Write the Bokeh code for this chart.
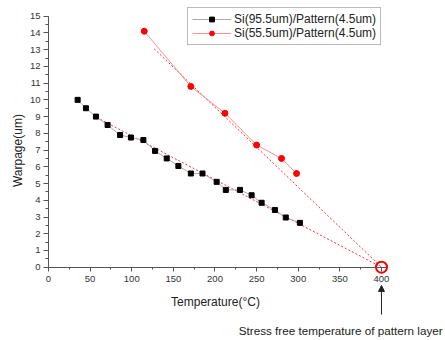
import math
from bokeh.plotting import figure
from bokeh.models import (Range1d, SingleIntervalTicker, Label, Arrow, NormalHead,
                          Legend, LegendItem)
from bokeh.embed import file_html
from bokeh.resources import INLINE

# ---- data ----
temp_95 = [35, 45, 57, 71, 86, 99, 114, 128, 142, 156, 171, 185, 202, 213, 230, 244, 256, 272, 285, 302]
warp_95 = [10.0, 9.5, 9.0, 8.5, 7.9, 7.75, 7.6, 6.95, 6.5, 6.05, 5.6, 5.6, 5.1, 4.62, 4.62, 4.3, 3.85, 3.42, 2.97, 2.65]
temp_55 = [115, 171, 212, 250, 280, 298]
warp_55 = [14.1, 10.8, 9.2, 7.3, 6.5, 5.6]
fit_95_x = [54, 400]
fit_95_y = [9.05, 0]
fit_55_x = [127, 400]
fit_55_y = [13.05, 0]
stress_free_x = [400]
stress_free_y = [0]
label_95 = "Si(95.5um)/Pattern(4.5um)"
label_55 = "Si(55.5um)/Pattern(4.5um)"
x_title = "Temperature(\u00b0C)"
y_title = "Warpage(um)"
note = "Stress free temperature of pattern layer"

FONT = "Liberation Sans"

p = figure(width=445, height=340, output_backend="svg", toolbar_location=None,
           x_range=Range1d(-57.66, 476.9), y_range=Range1d(-4.38, 15.938),
           min_border_left=0, min_border_right=0, min_border_top=0, min_border_bottom=0)
p.grid.visible = False
p.outline_line_color = None
p.background_fill_color = "white"
p.border_fill_color = "white"

xa = p.xaxis[0]
xa.fixed_location = 0
xa.bounds = (0, 406)
xa.ticker = SingleIntervalTicker(interval=50, num_minor_ticks=2)
ya = p.yaxis[0]
ya.fixed_location = 0
ya.bounds = (0, 15)
ya.ticker = SingleIntervalTicker(interval=1, num_minor_ticks=2)
for ax, mo, mi, st in ((xa, 4, 2, 5), (ya, 5, 3, 3)):
    ax.major_tick_in = 0
    ax.major_tick_out = mo
    ax.minor_tick_in = 0
    ax.minor_tick_out = mi
    ax.axis_line_color = "#555555"
    ax.major_tick_line_color = "#555555"
    ax.minor_tick_line_color = "#555555"
    ax.major_label_standoff = st
    ax.major_label_text_font = FONT
    ax.major_label_text_font_size = "9.5px"
    ax.major_label_text_color = "#333333"

# fit lines
p.line(fit_95_x, fit_95_y, line_color="#ff3333", line_dash="2 2", line_width=1)
p.line(fit_55_x, fit_55_y, line_color="#ff3333", line_dash="2 2", line_width=1)

# series
l95 = p.line(temp_95, warp_95, line_color="#aaaaaa", line_width=1)
s95 = p.scatter(temp_95, warp_95, marker="square", size=5, fill_color="black", line_color="black")
l55 = p.line(temp_55, warp_55, line_color="#ff9090", line_width=1)
s55 = p.scatter(temp_55, warp_55, marker="circle", size=6, fill_color="red", line_color="red")

p.scatter(stress_free_x, stress_free_y, marker="circle", size=11, fill_color=None,
          line_color="red", line_width=2)

legend = Legend(items=[LegendItem(label=label_95, renderers=[l95, s95]),
                       LegendItem(label=label_55, renderers=[l55, s55])],
                location=(187, 295), margin=0, padding=4, spacing=0,
                glyph_width=39, glyph_height=12, label_height=12, label_standoff=3,
                label_text_font=FONT, label_text_font_size="12px", label_text_color="#222222",
                border_line_color="#777777", border_line_width=1, background_fill_alpha=1)
p.add_layout(legend)

p.add_layout(Label(x=200.6, y=-2.09, text=x_title, text_align="center", text_baseline="middle",
                   text_font=FONT, text_font_size="12px", text_color="#222222"))
p.add_layout(Label(x=-37.2, y=6.97, text=y_title, angle=math.pi / 2, text_align="center",
                   text_baseline="middle", text_font=FONT, text_font_size="12px",
                   text_color="#222222"))
p.add_layout(Label(x=351, y=-3.78, text=note, text_align="center", text_baseline="middle",
                   text_font=FONT, text_font_size="11.7px", text_color="#222222"))
p.add_layout(Arrow(end=NormalHead(size=6, fill_color="#222222", line_color="#222222"),
                   x_start=400, y_start=-2.83, x_end=400, y_end=-1.09,
                   line_color="#222222", line_width=1))

open("out.html", "w").write(file_html(p, INLINE))
